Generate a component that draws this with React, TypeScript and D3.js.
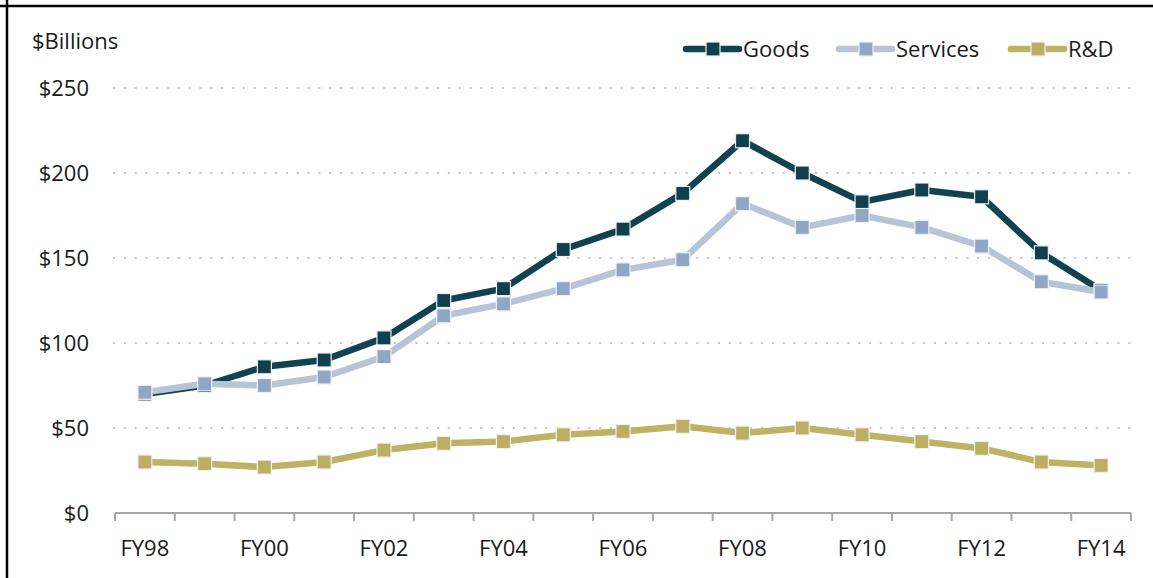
import React from 'react';
import * as d3 from 'd3';

const years = ['FY98', 'FY99', 'FY00', 'FY01', 'FY02', 'FY03', 'FY04', 'FY05', 'FY06', 'FY07', 'FY08', 'FY09', 'FY10', 'FY11', 'FY12', 'FY13', 'FY14'];
const goods = [70, 75, 86, 90, 103, 125, 132, 155, 167, 188, 219, 200, 183, 190, 186, 153, 131];
const services = [71, 76, 75, 80, 92, 116, 123, 132, 143, 149, 182, 168, 175, 168, 157, 136, 130];
const rnd = [30, 29, 27, 30, 37, 41, 42, 46, 48, 51, 47, 50, 46, 42, 38, 30, 28];
const yTicks = [0, 50, 100, 150, 200, 250];
const xLabels = ['FY98', 'FY00', 'FY02', 'FY04', 'FY06', 'FY08', 'FY10', 'FY12', 'FY14'];

const series = [
  { name: 'Goods', values: goods, line: '#12414f', marker: '#10404e' },
  { name: 'Services', values: services, line: '#b5c4d7', marker: '#91a6c4' },
  { name: 'R&D', values: rnd, line: '#bfb264', marker: '#bcae62' },
];

const font = '"Open Sans", Lato, sans-serif';
const fs = 22;
const textColor = '#1a1a1a';

const App = () => {
  const width = 1153;
  const height = 578;
  const left = 115;
  const right = 1131;
  const top = 88;
  const bottom = 513;

  // band axis like excel: ticks between categories
  const x = d3.scaleBand().domain(years).range([left, right]).padding(0);
  const cx = (d: string) => (x(d) as number) + x.bandwidth() / 2;
  const y = d3.scaleLinear().domain([0, 250]).range([bottom, top]);

  const line = d3
    .line<number>()
    .x((d, i) => cx(years[i]))
    .y(d => y(d));

  const tickXs = years.map(d => x(d) as number).concat([right]);

  // legend layout
  const legend = [
    { s: series[0], x0: 683 },
    { s: series[1], x0: 836 },
    { s: series[2], x0: 1008 },
  ];
  const legY = 49;

  return (
    <div style={{ position: 'absolute', left: 0, top: 0 }}>
      <svg width={width} height={height} style={{ display: 'block', background: '#fff' }}>
        <line x1={7} y1={0} x2={7} y2={height} stroke="#000" strokeWidth={2.5} />
        <line x1={0} y1={6} x2={width} y2={6} stroke="#000" strokeWidth={2.5} />

        <text x={32} y={49} fontFamily={font} fontSize={fs} fill={textColor}>$Billions</text>

        {/* gridlines */}
        {yTicks.filter(t => t > 0).map(t => (
          <line key={t} x1={113} x2={1134} y1={y(t)} y2={y(t)} stroke="#c9c9c9" strokeWidth={2.2} strokeDasharray="2.2 8.6" />
        ))}

        {/* y labels */}
        {yTicks.map(t => (
          <text key={t} x={89} y={y(t) + 8} textAnchor="end" fontFamily={font} fontSize={fs} fill={textColor}>
            {'$' + t}
          </text>
        ))}

        {/* x axis */}
        <line x1={left} x2={right} y1={bottom} y2={bottom} stroke="#a6a6a6" strokeWidth={2} />
        {tickXs.map((tx, i) => (
          <line key={i} x1={tx} x2={tx} y1={bottom} y2={bottom + 8} stroke="#a6a6a6" strokeWidth={2} />
        ))}
        {xLabels.map(l => (
          <text key={l} x={cx(l)} y={556} textAnchor="middle" fontFamily={font} fontSize={fs} fill={textColor}>{l}</text>
        ))}

        {/* series, R&D drawn first so goods sits under services like original */}
        {[series[2], series[0], series[1]].map(s => (
          <g key={s.name}>
            <path d={line(s.values) || ''} fill="none" stroke={s.line} strokeWidth={6.5} strokeLinejoin="round" />
            {s.values.map((v, i) => (
              <rect key={i} x={cx(years[i]) - 7} y={y(v) - 7} width={14} height={14} fill={s.marker} stroke="#eef1f4" strokeWidth={1.2} />
            ))}
          </g>
        ))}

        {/* legend */}
        {legend.map(({ s, x0 }) => (
          <g key={s.name}>
            <line x1={x0 + 3} x2={x0 + 56} y1={legY} y2={legY} stroke={s.line} strokeWidth={6.5} strokeLinecap="round" />
            <rect x={x0 + 23} y={legY - 7} width={14} height={14} fill={s.marker} stroke="#eef1f4" strokeWidth={1.2} />
            <text x={x0 + 60} y={legY + 8} fontFamily={font} fontSize={fs} fill={textColor}>{s.name}</text>
          </g>
        ))}
      </svg>
    </div>
  );
};

export default App;
